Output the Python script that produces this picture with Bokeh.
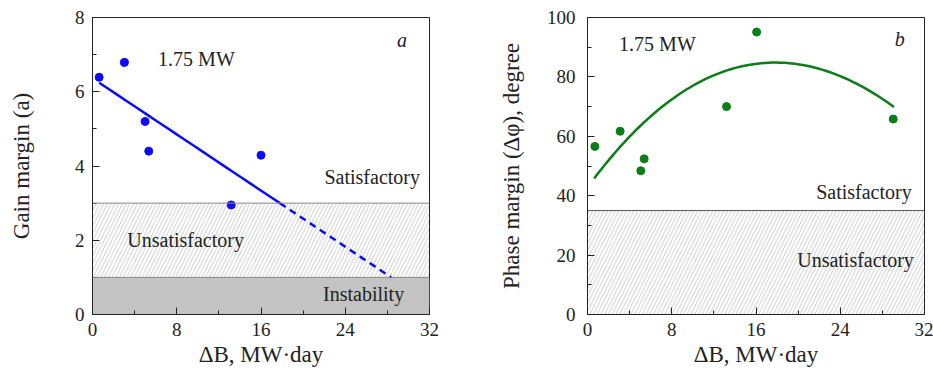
import numpy as np
from bokeh.plotting import figure
from bokeh.layouts import row
from bokeh.models import FixedTicker, Label, BoxAnnotation, Span, Range1d
from bokeh.embed import file_html
from bokeh.resources import INLINE

# ---- data ----
gm_x = [0.63, 3.03, 4.99, 5.34, 16.0, 13.17]
gm_y = [6.39, 6.79, 5.20, 4.40, 4.29, 2.95]
pm_x = [0.70, 3.10, 5.06, 5.38, 13.2, 16.06, 29.03]
pm_y = [56.6, 61.7, 48.4, 52.4, 70.0, 95.1, 65.8]
# trend curve of the phase margin
pm_curve_x = [0.63, 3.0, 6.17, 9.33, 12.49, 15.97, 18.64, 21.8, 24.98, 29.1]
pm_curve_y = [45.7, 56.4, 67.1, 75.3, 81.1, 84.7, 85.0, 83.3, 77.8, 70.2]
gm_satisfactory = 3.0
gm_instability = 1.0
pm_satisfactory = 35.0
x_ticks = [0, 8, 16, 24, 32]
x_minor = [4, 12, 20, 28]
gm_ticks = [0, 2, 4, 6, 8]
gm_minor = [1, 3, 5, 7]
pm_ticks = [0, 20, 40, 60, 80, 100]
pm_minor = [10, 30, 50, 70, 90]

FONT = "Liberation Serif"
BLUE = "#0a0aff"
GREEN = "#0b7d16"
INK = "#222222"


def style(p, yt, ym, ylabel, ystandoff, label_std):
    p.xaxis.ticker = FixedTicker(ticks=x_ticks, minor_ticks=x_minor)
    p.yaxis.ticker = FixedTicker(ticks=yt, minor_ticks=ym)
    p.grid.visible = False
    p.outline_line_color = INK
    p.outline_line_width = 1
    for ax in (p.xaxis, p.yaxis):
        ax.major_tick_in = 7
        ax.major_tick_out = 0
        ax.minor_tick_in = 4
        ax.minor_tick_out = 0
        ax.axis_line_color = INK
        ax.major_tick_line_color = INK
        ax.minor_tick_line_color = INK
        ax.major_label_text_font = FONT
        ax.major_label_text_font_size = "19px"
        ax.major_label_text_color = INK
        ax.axis_label_text_font = FONT
        ax.axis_label_text_font_style = "normal"
        ax.axis_label_text_font_size = "23px"
        ax.axis_label_text_color = INK
    p.xaxis.axis_label = "ΔB, MW·day"
    p.xaxis.major_label_standoff = 8
    p.xaxis.axis_label_standoff = 3
    p.yaxis.axis_label = ylabel
    p.yaxis.major_label_standoff = label_std
    p.yaxis.axis_label_standoff = ystandoff


def lbl(p, x, y, text, style_="normal", size="20px"):
    p.add_layout(Label(x=x, y=y, text=text, text_font=FONT, text_font_size=size,
                       text_font_style=style_, text_align="center", text_baseline="middle",
                       text_color=INK))


# ---- left: gain margin ----
p1 = figure(width=470, height=372, output_backend="svg", toolbar_location=None,
            x_range=Range1d(0, 32), y_range=Range1d(0, 8),
            min_border_left=92, min_border_right=41, min_border_top=17, min_border_bottom=58)
style(p1, gm_ticks, gm_minor, "Gain margin (a)", 38, 8)

p1.add_layout(BoxAnnotation(bottom=0, top=gm_instability, fill_color="#c3c3c3", fill_alpha=1,
                            line_color=None, level="underlay"))
p1.add_layout(BoxAnnotation(bottom=gm_instability, top=gm_satisfactory, fill_alpha=0,
                            line_color=None, hatch_pattern="/", hatch_color="#a8a8a8",
                            hatch_weight=0.6, hatch_scale=7.5, level="underlay"))
p1.add_layout(Span(location=gm_satisfactory, dimension="width", line_color="#888888", line_width=1))
p1.add_layout(Span(location=gm_instability, dimension="width", line_color="#888888", line_width=1))

k, b = np.polyfit(gm_x, gm_y, 1)
x0 = min(gm_x)
x_sat = (gm_satisfactory - b) / k
x_ins = (gm_instability - b) / k
xs = np.linspace(x0, x_sat, 20)
p1.line(xs, k * xs + b, line_color=BLUE, line_width=2.5)
xd = np.linspace(x_sat, x_ins, 20)
p1.line(xd, k * xd + b, line_color=BLUE, line_width=2.5, line_dash="7 5")
p1.scatter(gm_x, gm_y, size=8, color=BLUE)

lbl(p1, 9.87, 6.89, "1.75 MW")
lbl(p1, 29.4, 7.4, "a", style_="italic")
lbl(p1, 26.56, 3.7, "Satisfactory")
lbl(p1, 8.84, 2.0, "Unsatisfactory")
lbl(p1, 25.74, 0.56, "Instability")

# ---- right: phase margin ----
p2 = figure(width=463, height=372, output_backend="svg", toolbar_location=None,
            x_range=Range1d(0, 32), y_range=Range1d(0, 100),
            min_border_left=117, min_border_right=9, min_border_top=17, min_border_bottom=58)
style(p2, pm_ticks, pm_minor, "Phase margin (Δφ), degree", 20, 12)

p2.add_layout(BoxAnnotation(bottom=0, top=pm_satisfactory, fill_alpha=0,
                            line_color=None, hatch_pattern="/", hatch_color="#a8a8a8",
                            hatch_weight=0.6, hatch_scale=7.5, level="underlay"))
p2.add_layout(Span(location=pm_satisfactory, dimension="width", line_color="#555555", line_width=1))

c = np.polyfit(pm_curve_x, pm_curve_y, 3)
xq = np.linspace(min(pm_curve_x), max(pm_curve_x), 80)
p2.line(xq, np.polyval(c, xq), line_color=GREEN, line_width=2.5)
p2.scatter(pm_x, pm_y, size=8, color=GREEN)

lbl(p2, 6.64, 91.2, "1.75 MW")
lbl(p2, 29.66, 92.7, "b", style_="italic")
lbl(p2, 26.25, 41.2, "Satisfactory")
lbl(p2, 25.45, 18.4, "Unsatisfactory")

layout = row(p1, p2)
open("out.html", "w").write(file_html(layout, INLINE))
